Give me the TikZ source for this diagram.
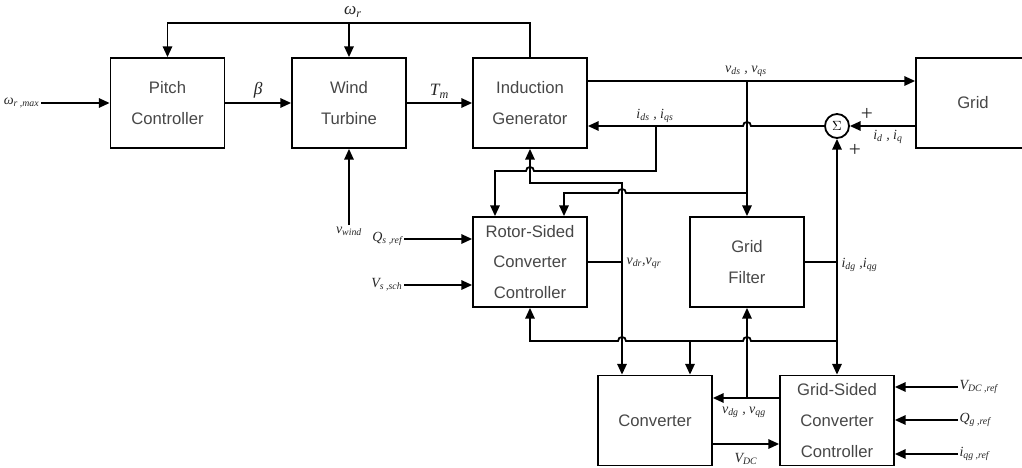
\documentclass[tikz,border=0pt]{standalone}
\usepackage{fontspec}
\setmainfont{Liberation Sans}
\newfontfamily\lblfont{Liberation Serif}
\usetikzlibrary{arrows.meta}
\begin{document}
\begin{tikzpicture}[x=0.75pt,y=-0.75pt,
  ln/.style={line width=1.35pt},
  arr/.style={line width=1.35pt,-{Triangle[length=8pt,width=7pt]}},
  blk/.style={draw,line width=1.35pt,minimum width=85.5pt,minimum height=67.5pt,align=center,
    font=\fontsize{12.5}{23}\selectfont,text=black!72,inner sep=1pt},
  lbl/.style={font=\lblfont\itshape\fontsize{10.5}{12}\selectfont,text=black!85,inner sep=1pt},
  lblb/.style={font=\lblfont\itshape\fontsize{13}{14}\selectfont,text=black!85,inner sep=1pt},
  plus/.style={font=\lblfont\fontsize{16}{16}\selectfont,text=black!85,inner sep=0pt}]
\useasboundingbox (0,0) rectangle (1022,468);
\clip (0,0) rectangle (1022,468);

% blocks
\node[blk] (pitch) at (167.5,103) {Pitch\\Controller};
\node[blk] (wt) at (349,103) {Wind\\Turbine};
\node[blk] (ig) at (530,103) {Induction\\Generator};
\node[blk] (grid) at (973,103) {Grid};
\node[blk] (rsc) at (530,262) {Rotor-Sided\\Converter\\Controller};
\node[blk] (gf) at (747,262) {Grid\\Filter};
\node[blk] (conv) at (655,420.5) {Converter};
\node[blk] (gsc) at (837,420.5) {Grid-Sided\\Converter\\Controller};
\node[draw,circle,ln,minimum size=18pt,inner sep=0pt] (sum) at (837,126) {$\Sigma$};

% rotor speed feedback
\coordinate (fbR) at (530,23);
\coordinate (fbL) at (167.5,23);
\coordinate (fbM) at (349,23);
\draw[arr] (ig.north) -- (fbR) -- (fbL) -- (pitch.north);
\draw[arr] (fbM) -- (wt.north);
\node[lblb] (wr) at (353,12) {ω\textsubscript{r}};

% left inputs
\node[lbl,anchor=east] (wrmax) at (41,103) {ω\textsubscript{r ,max}};
\draw[arr] (wrmax) -- (pitch);
\draw[arr] (pitch) -- node[lblb,above=2pt] (beta) {β} (wt);
\draw[arr] (wt) -- node[lblb,above=2pt] (tm) {T\textsubscript{m}} (ig);
\node[lbl] (vw) at (349,231) {v\textsubscript{wind}};
\draw[arr] (vw.north) -- (wt.south);

% stator voltage
\coordinate (vsj) at (747,81);
\draw[arr] (ig.east |- vsj) -- (grid.west |- vsj);
\node[lbl] (vds) at (746,71) {v\textsubscript{ds} , v\textsubscript{qs}};
\draw[arr] (vsj) -- (gf.north);
\coordinate (vsb) at (747,193);
\coordinate (vsc) at (564,193);
\draw[arr] (vsb) -- (626,193) .. controls (626,187.7) and (618,187.7) .. (618,193) -- (vsc) -- (vsc |- rsc.north);

% grid current / summation
\draw[arr] (grid.west |- sum) -- (sum);
\node[lbl] (idq) at (888,137) {i\textsubscript{d} , i\textsubscript{q}};
\node[plus] (p1) at (867,114) {+};
\node[plus] (p2) at (855,150) {+};
\draw[arr] (sum) -- (751,126) .. controls (751,120.7) and (743,120.7) .. (743,126) -- (ig.east |- sum);
\node[lbl] (idsq) at (655,116) {i\textsubscript{ds} , i\textsubscript{qs}};
\coordinate (isb) at (656,126);
\coordinate (isc) at (656,171);
\coordinate (isd) at (495,171);
\draw[arr] (isb) -- (isc) -- (534,171) .. controls (534,165.7) and (526,165.7) .. (526,171) -- (isd) -- (isd |- rsc.north);

% rotor voltage
\coordinate (vr) at (622,262);
\coordinate (vrt) at (622,183);
\coordinate (vrl) at (530,183);
\draw[ln] (rsc.east) -- (vr);
\draw[arr] (vr) -- (vrt) -- (vrl) -- (ig.south);
\draw[arr] (vr) -- (vr |- conv.north);
\node[lbl,anchor=west] (vdrl) at (625,263) {v\textsubscript{dr},v\textsubscript{qr}};

% grid filter current
\coordinate (ij) at (837,262);
\draw[ln] (gf.east) -- (ij);
\draw[arr] (ij) -- (sum.south);
\draw[arr] (ij) -- (gsc.north);
\node[lbl,anchor=west] (idgl) at (840,265) {i\textsubscript{dg} ,i\textsubscript{qg}};
\coordinate (hb) at (837,341);
\coordinate (hl) at (530,341);
\coordinate (hc) at (690,341);
\draw[arr] (hb) -- (751,341) .. controls (751,335.7) and (743,335.7) .. (743,341) -- (626,341) .. controls (626,335.7) and (618,335.7) .. (618,341) -- (hl) -- (rsc.south);
\draw[arr] (hc) -- (hc |- conv.north);

% converter / grid-sided controller
\coordinate (vg) at (747,398);
\draw[arr] (gsc.west |- vg) -- (conv.east |- vg);
\draw[arr] (vg) -- (gf.south);
\node[lbl] (vdgl) at (744,412) {v\textsubscript{dg} , v\textsubscript{qg}};
\coordinate (vdc) at (746,444);
\draw[arr] (conv.east |- vdc) -- (gsc.west |- vdc);
\node[lbl] (vdcl) at (746,459) {V\textsubscript{DC}};

% rotor-sided inputs
\node[lbl,anchor=east] (qs) at (404,239) {Q\textsubscript{s ,ref}};
\draw[arr] (qs) -- (rsc.west |- qs);
\node[lbl,anchor=east] (vssch) at (404,285) {V\textsubscript{s ,sch}};
\draw[arr] (vssch) -- (rsc.west |- vssch);

% grid-sided inputs
\node[lbl,anchor=west] (vdcref) at (958,387) {V\textsubscript{DC ,ref}};
\draw[arr] (vdcref) -- (gsc.east |- vdcref);
\node[lbl,anchor=west] (qgref) at (958,420) {Q\textsubscript{g ,ref}};
\draw[arr] (qgref) -- (gsc.east |- qgref);
\node[lbl,anchor=west] (iqgref) at (958,454) {i\textsubscript{qg ,ref}};
\draw[arr] (iqgref) -- (gsc.east |- iqgref);
\end{tikzpicture}
\end{document}
